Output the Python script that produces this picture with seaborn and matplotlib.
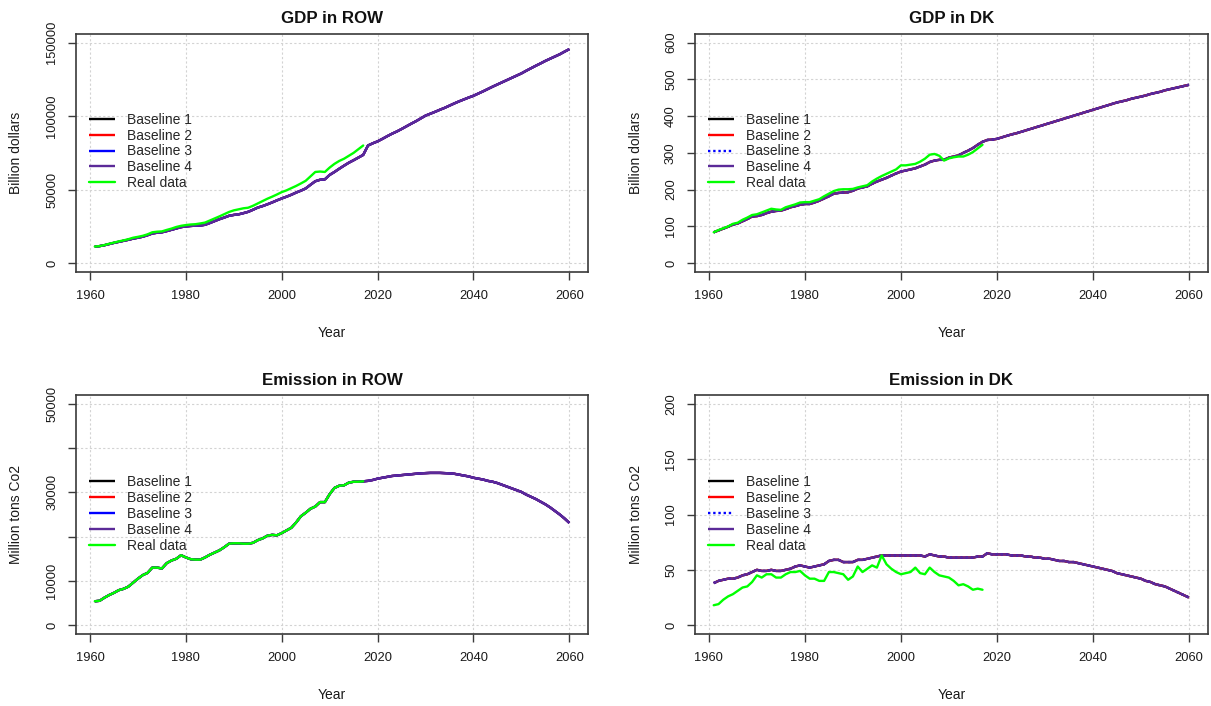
import matplotlib
matplotlib.use("Agg")
import matplotlib.pyplot as plt
import pandas as pd
import seaborn as sns

# ---------------- data ----------------
years_base = list(range(1961, 2061))
years_real = list(range(1961, 2018))
years_proj = list(range(2018, 2061))

series_names = ["Baseline 1", "Baseline 2", "Baseline 3", "Baseline 4"]
real_name = "Real data"

gdp_row_real = [11300, 11600, 12300, 13200, 14000, 14800, 15500, 16300, 17300, 17900,
                18600, 19600, 21000, 21400, 21600, 22600, 23500, 24600, 25400, 25900,
                26300, 26500, 27000, 27600, 29000, 30400, 31800, 33300, 34800, 35900,
                36600, 37300, 37700, 39000, 40600, 42200, 43800, 45200, 46700, 48300,
                49500, 51000, 52500, 54200, 56000, 59000, 62000, 62300, 62000, 65000,
                67500, 69500, 71000, 73000, 75000, 77500, 80000]
gdp_row_base = [11300, 11600, 12200, 13000, 13800, 14500, 15200, 15900, 16700, 17300,
                18000, 19000, 20200, 20700, 21000, 21800, 22700, 23600, 24500, 25000,
                25300, 25500, 25600, 26100, 27300, 28600, 29900, 31000, 32200, 32800,
                33200, 34000, 34900, 36300, 37800, 38800, 40000, 41300, 42700, 44000,
                45200, 46500, 48000, 49300, 50800, 53300, 55700, 56700, 57000, 60000,
                62000, 64200, 66300, 68300, 70000, 71800, 73600, 80000, 81500, 82800,
                84500, 86300, 88000, 89500, 91200, 93000, 94800, 96500, 98400, 100300,
                101600, 102900, 104300, 105600, 107100, 108600, 110000, 111300, 112600, 113800,
                115300, 116800, 118400, 120000, 121500, 123000, 124500, 126000, 127500, 129000,
                130800, 132500, 134200, 135800, 137500, 139000, 140500, 142000, 143800, 145500]

gdp_dk_real = [84, 90, 95, 100, 107, 110, 118, 124, 131, 133,
               138, 143, 148, 146, 145, 152, 156, 160, 165, 166,
               166, 170, 174, 182, 189, 196, 200, 201, 201, 202,
               206, 209, 212, 222, 230, 237, 243, 249, 255, 266,
               266, 268, 270, 276, 284, 295, 297, 292, 279, 285,
               288, 290, 290, 295, 302, 312, 322]
gdp_dk_base = [84, 89, 94, 99, 105, 108, 114, 120, 127, 128,
               131, 136, 140, 142, 143, 147, 152, 155, 159, 161,
               161, 165, 170, 176, 182, 189, 191, 192, 193, 197,
               203, 206, 209, 216, 222, 227, 232, 238, 244, 249,
               252, 255, 258, 263, 268, 275, 279, 281, 281, 287,
               290, 293, 300, 306, 313, 322, 330, 335, 336, 338,
               342, 346, 350, 353, 357, 361, 365, 369, 373, 377,
               381, 385, 389, 393, 397, 401, 405, 409, 413, 417,
               421, 425, 429, 433, 437, 440, 443, 447, 450, 453,
               456, 460, 463, 466, 470, 473, 476, 479, 482, 485]

emis_row_real = [5400, 5500, 6200, 6800, 7300, 7900, 8200, 8700, 9600, 10500,
                 11300, 11800, 13000, 13000, 12800, 14000, 14600, 15000, 15800, 15300,
                 14900, 14800, 14800, 15300, 15900, 16400, 16900, 17600, 18400, 18500,
                 18500, 18400, 18400, 18600, 19200, 19600, 20200, 20400, 20300, 20800,
                 21400, 22000, 23200, 24600, 25400, 26300, 26800, 27800, 27800, 29600,
                 31000, 31500, 31600, 32200, 32400, 32400, 32500]
emis_row_proj = [32600, 32800, 33100, 33300, 33500, 33700, 33800, 33900, 34000, 34100,
                 34200, 34300, 34350, 34400, 34400, 34400, 34350, 34300, 34200, 34000,
                 33800, 33600, 33300, 33100, 32900, 32600, 32400, 32100, 31700, 31300,
                 30900, 30500, 30100, 29500, 29000, 28500, 27900, 27300, 26600, 25800,
                 25000, 24100, 23100]
emis_row_base = emis_row_real + emis_row_proj

emis_dk_real = [18, 19, 23, 26, 28, 31, 34, 35, 39, 45,
                43, 46, 46, 43, 43, 46, 48, 48, 49, 45,
                42, 42, 40, 40, 48, 48, 47, 46, 41, 44,
                53, 48, 51, 54, 52, 63, 55, 51, 48, 46,
                47, 48, 52, 47, 46, 52, 48, 45, 44, 43,
                40, 36, 37, 35, 32, 33, 32]
emis_dk_base = [38, 40, 41, 42, 42, 43, 45, 46, 48, 50,
                49, 49, 50, 49, 49, 50, 51, 53, 54, 53,
                52, 53, 54, 55, 58, 59, 59, 57, 57, 57,
                59, 59, 60, 61, 62, 63, 63, 63, 63, 63,
                63, 63, 63, 63, 62, 64, 63, 62, 62, 61,
                61, 61, 61, 61, 61, 62, 62, 65, 64, 64,
                64, 64, 63, 63, 63, 62, 62, 61, 61, 60,
                60, 59, 58, 58, 57, 57, 56, 55, 54, 53,
                52, 51, 50, 49, 47, 46, 45, 44, 43, 42,
                40, 39, 37, 36, 35, 33, 31, 29, 27, 25]

x_ticks = [1960, 1980, 2000, 2020, 2040, 2060]
gdp_row_ticks = [0, 50000, 100000, 150000]
gdp_row_labels = ["0", "50000", "100000", "150000"]
gdp_dk_ticks = [0, 100, 200, 300, 400, 500, 600]
gdp_dk_labels = ["0", "100", "200", "300", "400", "500", "600"]
emis_row_ticks = [0, 10000, 20000, 30000, 40000, 50000]
emis_row_labels = ["0", "10000", "", "30000", "", "50000"]
emis_dk_ticks = [0, 50, 100, 150, 200]
emis_dk_labels = ["0", "50", "100", "150", "200"]

# ---------------- style ----------------
sns.set_theme(style="white")
plt.rcParams["font.family"] = ["Liberation Sans", "DejaVu Sans"]

base_colors = ["#000000", "#ff0000", "#0000ff", "#5b2a98"]
real_color = "#00ff00"
LW = 1.7
BOX = "#3a3a3a"

fig = plt.figure(figsize=(12.11, 7.06), dpi=100)
W, H = 1211.0, 706.0
positions = {
    "tl": [75.8 / W, (H - 272) / H, 512.5 / W, 238.3 / H],
    "tr": [694.7 / W, (H - 272) / H, 513.2 / W, 238.3 / H],
    "bl": [75.8 / W, (H - 634) / H, 512.5 / W, 239.0 / H],
    "br": [694.7 / W, (H - 634) / H, 513.2 / W, 239.0 / H],
}


def panel(key, title, ylabel, base, real, ticks, labels, dk, leg_y, lab_x):
    ax = fig.add_axes(positions[key])
    df_b = pd.DataFrame({"Year": years_base, "value": base})
    df_r = pd.DataFrame({"Year": years_real, "value": real})
    for name, col in zip(series_names, base_colors):
        ls = (0, (1.0, 1.2)) if (dk and name == "Baseline 3") else "-"
        sns.lineplot(data=df_b, x="Year", y="value", ax=ax, color=col,
                     linewidth=LW, linestyle=ls, label=name, legend=False,
                     errorbar=None, solid_capstyle="butt")
    sns.lineplot(data=df_r, x="Year", y="value", ax=ax, color=real_color,
                 linewidth=LW, label=real_name, legend=False, errorbar=None)

    ymax = ticks[-1]
    ax.set_xlim(1957.04, 2063.96)
    ax.set_ylim(-0.04 * ymax, 1.04 * ymax)
    ax.set_xticks(x_ticks)
    ax.set_xticklabels([str(t) for t in x_ticks])
    ax.set_yticks(ticks)
    ax.set_yticklabels(labels)
    for lab in ax.get_yticklabels():
        lab.set_rotation(90)
        lab.set_va("center")
        lab.set_ha("right")
        lab.set_rotation_mode("default")

    ax.grid(True, color="#d3d3d3", linestyle=(0, (2.0, 2.0)), linewidth=0.8)
    ax.set_axisbelow(True)
    for s in ax.spines.values():
        s.set_visible(True)
        s.set_color(BOX)
        s.set_linewidth(1.2)
    ax.tick_params(axis="both", direction="out", length=5.5, width=1.0,
                   color=BOX, labelsize=9.3, labelcolor="#1a1a1a", pad=7.2,
                   bottom=True, left=True)

    ax.set_title(title, fontsize=12.2, fontweight="bold", pad=7.5, color="#111111")
    ax.set_xlabel("Year", fontsize=10, color="#1a1a1a", va="center")
    ax.set_ylabel(ylabel, fontsize=10, color="#1a1a1a", va="center")
    ax.xaxis.set_label_coords(0.5, -0.256)
    ax.yaxis.set_label_coords(lab_x, 0.5)

    ax.legend(loc="upper left", bbox_to_anchor=(0.026, leg_y), frameon=False,
              fontsize=10, borderpad=0, borderaxespad=0, handlelength=1.87,
              handletextpad=0.88, labelspacing=0.13)
    return ax


panel("tl", "GDP in ROW", "Billion dollars", gdp_row_base, gdp_row_real,
      gdp_row_ticks, gdp_row_labels, False, 0.668, -0.1167)
panel("tr", "GDP in DK", "Billion dollars", gdp_dk_base, gdp_dk_real,
      gdp_dk_ticks, gdp_dk_labels, True, 0.668, -0.1144)
panel("bl", "Emission in ROW", "Million tons Co2", emis_row_base, emis_row_real,
      emis_row_ticks, emis_row_labels, False, 0.664, -0.1167)
panel("br", "Emission in DK", "Million tons Co2", emis_dk_base, emis_dk_real,
      emis_dk_ticks, emis_dk_labels, True, 0.664, -0.1144)

fig.savefig("out.png", dpi=100, facecolor="white")
